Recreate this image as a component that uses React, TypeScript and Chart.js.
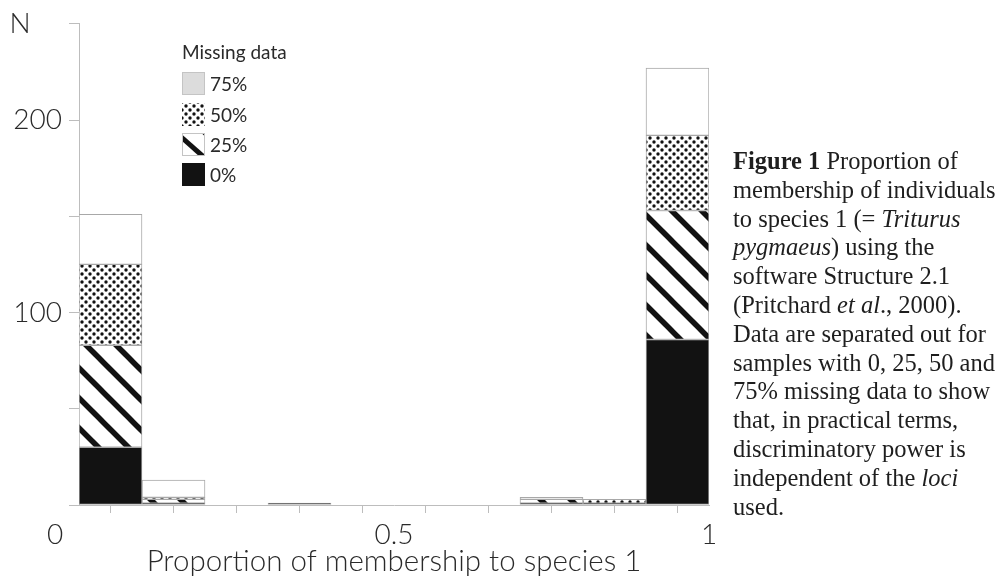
import React, { useEffect, useRef } from "react";
import { Chart, registerables } from "chart.js";

Chart.register(...registerables);

// Histogram bins (centre of each 0.1-wide bin of membership proportion)
const binCenters = [0.05, 0.15, 0.25, 0.35, 0.45, 0.55, 0.65, 0.75, 0.85, 0.95];
// Number of individuals per bin, by amount of missing data
const missing0 = [30, 1, 0, 1, 0, 0, 0, 1, 1, 86];
const missing25 = [53, 2, 0, 0, 0, 0, 0, 2, 0, 67];
const missing50 = [42, 1, 0, 0, 0, 0, 0, 0, 2, 39];
const missing75 = [26, 9, 0, 0, 0, 0, 0, 1, 0, 35];
const seriesLabels = ["0%", "25%", "50%", "75%"];

const xTickLabels = ["", "", "", "", "", "0.5", "", "", "", "", "1"];
const yTickLabels = ["", "", "100", "", "200", ""];
const originLabel = "0";
const yAxisTitle = "N";
const xAxisTitle = "Proportion of membership to species 1";
const legendTitle = "Missing data";

const SANS = "Lato, 'DejaVu Sans', sans-serif";
const TEXT = "#2a2a2a";
const AXIS = "#bdbdbd";
const BLACK = "#121212";
const EDGE = "#a8a8a8";

function makeHatch(): CanvasPattern {
  const c = document.createElement("canvas");
  c.width = 30;
  c.height = 30;
  const g = c.getContext("2d")!;
  g.fillStyle = "#ffffff";
  g.fillRect(0, 0, 30, 30);
  g.strokeStyle = BLACK;
  g.lineWidth = 5.5;
  for (const o of [-30, 0, 30]) {
    g.beginPath();
    g.moveTo(o - 5, -5);
    g.lineTo(o + 35, 35);
    g.stroke();
  }
  const p = g.createPattern(c, "repeat")!;
  p.setTransform(new DOMMatrix().translate(11, 0));
  return p;
}

function makeDots(): CanvasPattern {
  const c = document.createElement("canvas");
  c.width = 8;
  c.height = 8;
  const g = c.getContext("2d")!;
  g.fillStyle = "#ffffff";
  g.fillRect(0, 0, 8, 8);
  g.fillStyle = BLACK;
  for (const [x, y] of [[2, 2], [6, 6]]) {
    g.beginPath();
    g.arc(x, y, 1.7, 0, Math.PI * 2);
    g.fill();
  }
  return g.createPattern(c, "repeat")!;
}

const toPoints = (vals: number[]) => vals.map((v, i) => ({ x: binCenters[i], y: v }));

const captionLines: React.ReactNode[] = [
  <><b>Figure 1</b> Proportion of</>,
  <>membership of individuals</>,
  <>to species 1 (= <i>Triturus</i></>,
  <><i>pygmaeus</i>) using the</>,
  <>software Structure 2.1</>,
  <>(Pritchard <i>et al</i>., 2000).</>,
  <>Data are separated out for</>,
  <>samples with 0, 25, 50 and</>,
  <>75% missing data to show</>,
  <>that, in practical terms,</>,
  <>discriminatory power is</>,
  <>independent of the <i>loci</i></>,
  <>used.</>,
];

export default function App() {
  const ref = useRef<HTMLCanvasElement>(null);

  useEffect(() => {
    document.body.style.margin = "0";
    const canvas = ref.current!;
    const hatch = makeHatch();
    const dots = makeDots();

    const overlay = {
      id: "overlay",
      afterDraw(chart: any) {
        const ctx: CanvasRenderingContext2D = chart.ctx;
        ctx.save();
        ctx.fillStyle = TEXT;
        ctx.textBaseline = "middle";
        ctx.font = `300 28px ${SANS}`;
        ctx.textAlign = "center";
        ctx.fillText(yAxisTitle, 20, 24);
        ctx.fillText(originLabel, 55, 535);

        // legend
        const lx = 182;
        ctx.textAlign = "left";
        ctx.font = `400 19px ${SANS}`;
        ctx.fillText(legendTitle, lx, 53);
        const rows = [
          { label: seriesLabels[3], top: 72 },
          { label: seriesLabels[2], top: 103 },
          { label: seriesLabels[1], top: 133 },
          { label: seriesLabels[0], top: 163 },
        ];
        const s = 23;
        rows.forEach((r, i) => {
          const y = r.top;
          if (i === 0) {
            ctx.fillStyle = "#dcdcdc";
            ctx.fillRect(lx, y, s, s);
            ctx.strokeStyle = "#c4c4c4";
            ctx.lineWidth = 1;
            ctx.strokeRect(lx + 0.5, y + 0.5, s - 1, s - 1);
          } else if (i === 1) {
            ctx.fillStyle = dots;
            ctx.fillRect(lx, y, s, s);
          } else if (i === 2) {
            ctx.fillStyle = "#ffffff";
            ctx.fillRect(lx, y, s, s);
            ctx.save();
            ctx.beginPath();
            ctx.rect(lx, y, s, s);
            ctx.clip();
            ctx.strokeStyle = BLACK;
            ctx.lineWidth = 5;
            ctx.beginPath();
            ctx.moveTo(lx - 2, y + 3);
            ctx.lineTo(lx + s + 1, y + s + 3);
            ctx.stroke();
            ctx.beginPath();
            ctx.moveTo(lx + s - 3, y - 3);
            ctx.lineTo(lx + s + 3, y + 3);
            ctx.stroke();
            ctx.restore();
            ctx.strokeStyle = "#c4c4c4";
            ctx.lineWidth = 1;
            ctx.strokeRect(lx + 0.5, y + 0.5, s - 1, s - 1);
          } else {
            ctx.fillStyle = BLACK;
            ctx.fillRect(lx, y, s, s);
          }
          ctx.fillStyle = TEXT;
          ctx.fillText(r.label, lx + 28, y + s / 2 + 1);
        });
        ctx.restore();
      },
    };

    const common = { borderColor: EDGE, borderWidth: 1, borderSkipped: false as const };

    const chart = new Chart(canvas, {
      type: "bar",
      data: {
        datasets: [
          { label: seriesLabels[0], data: toPoints(missing0), backgroundColor: BLACK, ...common },
          { label: seriesLabels[1], data: toPoints(missing25), backgroundColor: hatch as any, ...common },
          { label: seriesLabels[2], data: toPoints(missing50), backgroundColor: dots as any, ...common },
          { label: seriesLabels[3], data: toPoints(missing75), backgroundColor: "#ffffff", ...common },
        ],
      },
      options: {
        responsive: false,
        animation: false,
        layout: { padding: { left: 0, top: 20, right: 294, bottom: 0 } },
        datasets: { bar: { barPercentage: 1, categoryPercentage: 1 } },
        scales: {
          x: {
            type: "linear",
            min: 0,
            max: 1,
            stacked: true,
            offset: false,
            ticks: {
              stepSize: 0.1,
              autoSkip: false,
              maxRotation: 0,
              padding: 5,
              color: TEXT,
              font: { family: SANS, size: 28, weight: "300" as any },
              callback: (_v: any, i: number) => xTickLabels[i] ?? "",
            },
            grid: { drawOnChartArea: false, tickLength: 8, color: AXIS },
            border: { color: AXIS, width: 1 },
            title: {
              display: true,
              text: xAxisTitle,
              color: TEXT,
              font: { family: SANS, size: 29.5, weight: "300" as any },
              padding: { top: 0, bottom: 5 },
            },
            afterFit: (scale: any) => {
              scale.height = 79;
            },
          },
          y: {
            min: 0,
            max: 250,
            stacked: true,
            ticks: {
              stepSize: 50,
              padding: 7,
              color: TEXT,
              font: { family: SANS, size: 28, weight: "300" as any },
              callback: (_v: any, i: number) => yTickLabels[i] ?? "",
            },
            grid: { drawOnChartArea: false, tickLength: 10, color: AXIS },
            border: { color: AXIS, width: 1 },
            afterFit: (scale: any) => {
              scale.width = 79;
            },
          },
        },
        plugins: { legend: { display: false }, tooltip: { enabled: false } },
      },
      plugins: [overlay],
    });
    return () => chart.destroy();
  }, []);

  return (
    <div style={{ position: "relative", width: 1003, height: 584, background: "#ffffff", overflow: "hidden" }}>
      <canvas ref={ref} width={1003} height={584} style={{ position: "absolute", left: 0, top: 0 }} />
      <div
        style={{
          position: "absolute",
          left: 733,
          top: 147,
          fontFamily: "'Liberation Serif', 'Times New Roman', serif",
          fontSize: "24.5px",
          lineHeight: "28.8px",
          color: "#1e1e1e",
          whiteSpace: "nowrap",
        }}
      >
        {captionLines.map((l, i) => (
          <div key={i}>{l}</div>
        ))}
      </div>
    </div>
  );
}
